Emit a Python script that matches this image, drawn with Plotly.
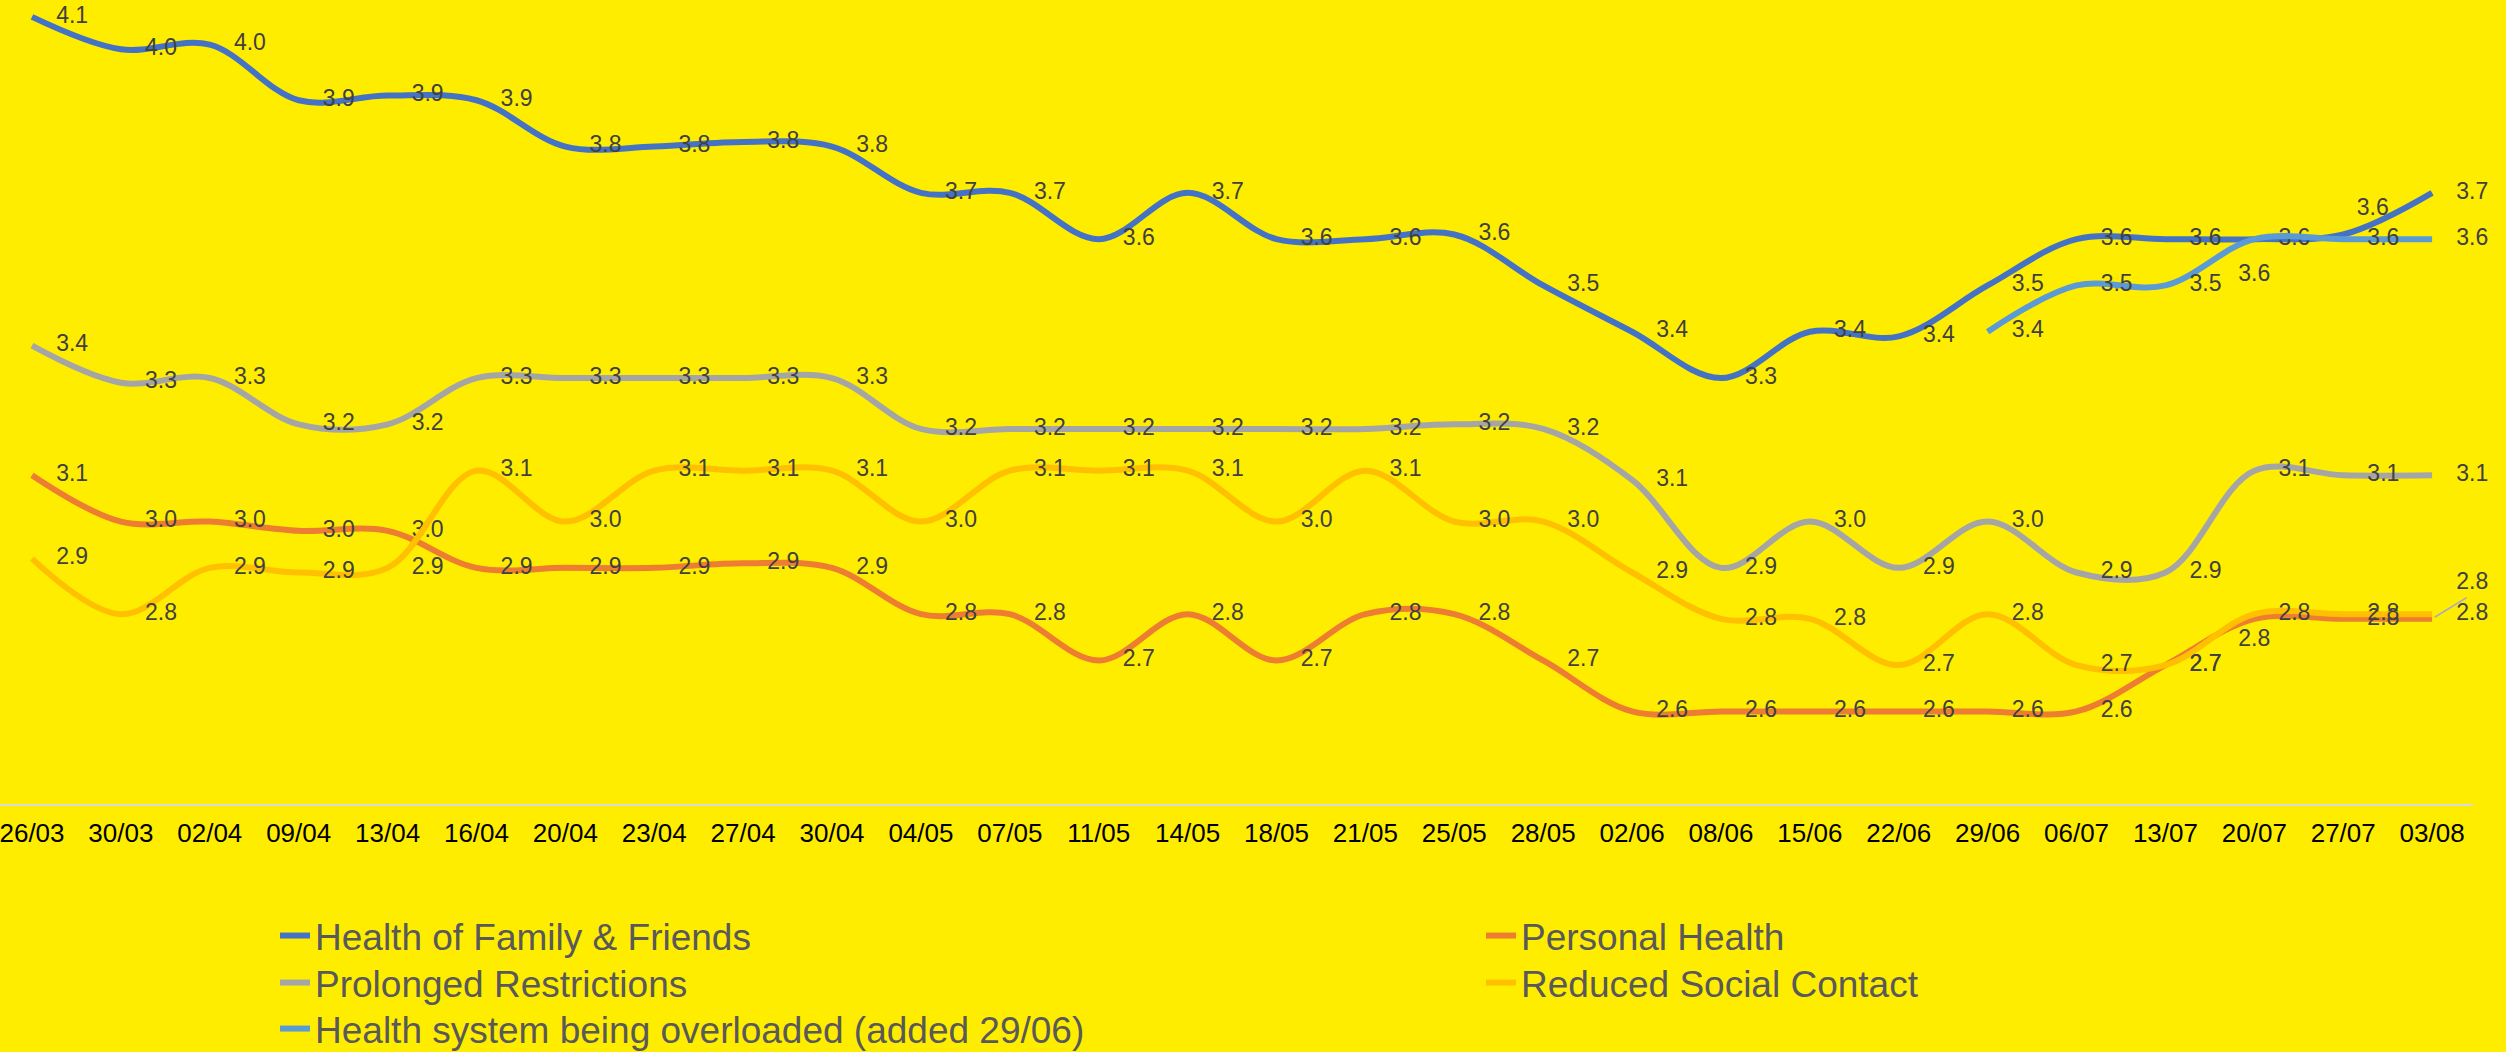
import plotly.graph_objects as go

categories = ["26/03", "30/03", "02/04", "09/04", "13/04", "16/04", "20/04", "23/04", "27/04", "30/04",
              "04/05", "07/05", "11/05", "14/05", "18/05", "21/05", "25/05", "28/05", "02/06", "08/06",
              "15/06", "22/06", "29/06", "06/07", "13/07", "20/07", "27/07", "03/08"]

family_friends = [4.10, 4.03, 4.04, 3.92, 3.93, 3.92, 3.82, 3.82, 3.83, 3.82,
                  3.72, 3.72, 3.62, 3.72, 3.62, 3.62, 3.63, 3.52, 3.42, 3.32,
                  3.42, 3.41, 3.52, 3.62, 3.62, 3.62, 3.63, 3.72]
personal_health = [3.11, 3.01, 3.01, 2.99, 2.99, 2.91, 2.91, 2.91, 2.92, 2.91,
                   2.81, 2.81, 2.71, 2.81, 2.71, 2.81, 2.81, 2.71, 2.60, 2.60,
                   2.60, 2.60, 2.60, 2.60, 2.70, 2.80, 2.80, 2.80]
prolonged = [3.39, 3.31, 3.32, 3.22, 3.22, 3.32, 3.32, 3.32, 3.32, 3.32,
             3.21, 3.21, 3.21, 3.21, 3.21, 3.21, 3.22, 3.21, 3.10, 2.91,
             3.01, 2.91, 3.01, 2.90, 2.90, 3.12, 3.11, 3.11]
social_contact = [2.93, 2.81, 2.91, 2.90, 2.91, 3.12, 3.01, 3.12, 3.12, 3.12,
                  3.01, 3.12, 3.12, 3.12, 3.01, 3.12, 3.01, 3.01, 2.90, 2.80,
                  2.80, 2.70, 2.81, 2.70, 2.70, 2.81, 2.81, 2.81]
health_system = [None] * 22 + [3.42, 3.52, 3.52, 3.62, 3.62, 3.62]

names = ["Health of Family & Friends", "Personal Health", "Prolonged Restrictions",
         "Reduced Social Contact", "Health system being overloaded (added 29/06)"]
colors = ["#4472C4", "#ED7D31", "#A5A5A5", "#FFC000", "#5B9BD5"]
series = [family_friends, personal_health, prolonged, social_contact, health_system]
legend_ids = ["legend", "legend2", "legend3", "legend4", "legend5"]

N = len(categories)


def per_point(default, overrides):
    p = [default] * N
    for k, v in overrides.items():
        p[k] = v
    return p


# label placement (Excel default is to the right; a few labels were moved by hand)
text_pos = [
    per_point("middle right", {26: "top right"}),
    per_point("middle right", {25: "bottom center", 27: "top right"}),
    per_point("middle right", {}),
    per_point("middle right", {}),
    per_point("middle right", {25: "bottom center"}),
]
# invisible marker sizes only control the label offset from the point
label_gap = [
    per_point(37, {26: 20}),
    per_point(37, {25: 15}),
    per_point(37, {}),
    per_point(37, {}),
    per_point(37, {}),
]

FONT = "Liberation Sans, Arial, sans-serif"
fig = go.Figure()
for name, vals, col, lg, tp, gap in zip(names, series, colors, legend_ids, text_pos, label_gap):
    fig.add_trace(go.Scatter(
        x=categories, y=vals, name=name, legend=lg,
        mode="lines+markers+text",
        line=dict(color=col, width=6, shape="spline", smoothing=1.0),
        marker=dict(size=gap, color="rgba(0,0,0,0)",
                    line=dict(width=0, color="rgba(0,0,0,0)")),
        texttemplate="%{y:.1f}",
        textposition=tp,
        textfont=dict(family=FONT, size=23, color="#404040"),
        cliponaxis=False,
        connectgaps=False,
    ))

# leader line of the moved last "Personal Health" label
fig.add_annotation(
    x=categories[-1], y=personal_health[-1], xref="x", yref="y",
    text="", showarrow=True, arrowhead=0, arrowwidth=1.5, arrowcolor="#A9A9C4",
    ax=36, ay=-22, standoff=3,
)

PLOT_W = 2473.0
PLOT_H = 804.0


def legend_box(px_x, px_y):
    return dict(
        xref="paper", yref="paper",
        x=px_x / PLOT_W, y=(PLOT_H - px_y) / PLOT_H,
        xanchor="left", yanchor="middle", orientation="v",
        bgcolor="rgba(0,0,0,0)", borderwidth=0,
        font=dict(family=FONT, size=37, color="#595959"),
    )


fig.update_layout(
    width=2506, height=1052,
    paper_bgcolor="#FFED00", plot_bgcolor="#FFED00",
    margin=dict(l=0, r=33, t=0, b=248, autoexpand=False),
    showlegend=True,
    font=dict(family=FONT),
    xaxis=dict(
        type="category", range=[-0.36, 27.46],
        showline=True, linecolor="#D9D9D9", linewidth=2,
        showgrid=False, zeroline=False, ticks="",
        tickmode="linear", dtick=1, tick0=0, tickangle=0,
        tickfont=dict(family=FONT, size=26, color="#000000"),
        ticklabelstandoff=5,
    ),
    yaxis=dict(range=[2.4, 4.1365], visible=False, showgrid=False, zeroline=False),
    legend=legend_box(275, 936),
    legend2=legend_box(1481, 936),
    legend3=legend_box(275, 983),
    legend4=legend_box(1481, 983),
    legend5=legend_box(275, 1029),
)

fig.write_html("out.html", config={"displayModeBar": False},
               post_script="document.body.style.margin='0';document.body.style.overflow='hidden';")
